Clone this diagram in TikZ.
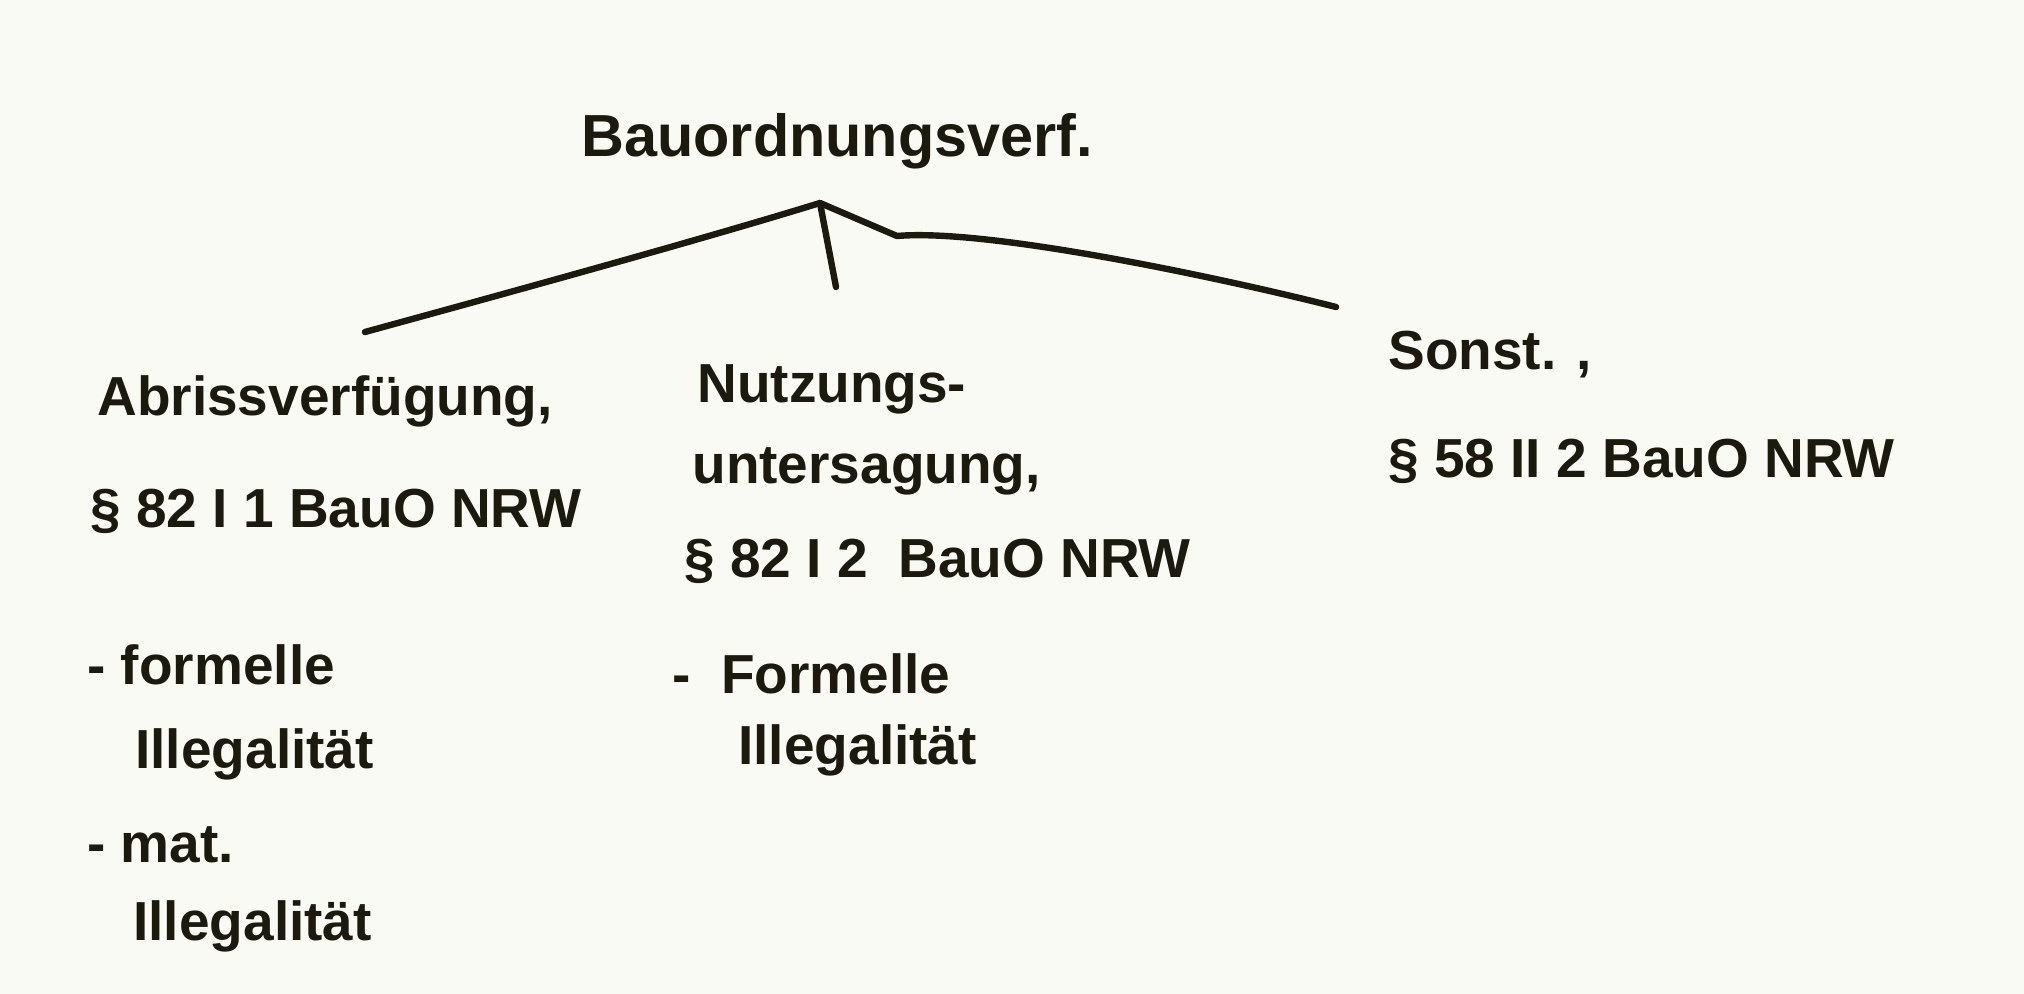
\documentclass[tikz,border=0pt]{standalone}
\usepackage{fontspec}
\setmainfont{Liberation Sans}
\definecolor{ink}{HTML}{1C1A0E}
\definecolor{paper}{HTML}{FAFAF5}
\begin{document}
\begin{tikzpicture}[x=0.5pt,y=-0.5pt,
  txt/.style={anchor=base west,inner sep=0pt,text=ink,font=\bfseries\fontsize{27.5}{32}\selectfont},
  stroke/.style={draw=ink,line width=3.2pt,line cap=round,line join=round}]
\fill[paper] (0,0) rectangle (2024,994);
\useasboundingbox (0,0) rectangle (2024,994);
% title
\node[txt,font=\bfseries\fontsize{29.7}{35}\selectfont] (title) at (581,157) {Bauordnungsverf.};
% branch texts
\node[txt] (a1) at (97,416) {Abrissverfügung,};
\node[txt] (a2) at (90,527) {§ 82 I 1 BauO NRW};
\node[txt] (a3) at (87,684) {- formelle};
\node[txt] (a4) at (135,768) {Illegalität};
\node[txt] (a5) at (87,862) {- mat.};
\node[txt] (a6) at (133,940) {Illegalität};
\node[txt] (n1) at (697,403) {Nutzungs-};
\node[txt] (n2) at (692,484) {untersagung,};
\node[txt] (n3) at (684,577) {§ 82 I 2 \ BauO NRW};
\node[txt] (n4) at (672,693) {-\ \ Formelle};
\node[txt] (n5) at (738,764) {Illegalität};
\node[txt] (s1) at (1388,370) {Sonst. ,};
\node[txt] (s2) at (1388,478) {§ 58 II 2 BauO NRW};
% connectors
\coordinate (apex) at (820,203);
\coordinate (lend) at (365,332);
\coordinate (mend) at (836,287);
\coordinate (rbend) at (897,236);
\coordinate (rend) at (1336,307);
\draw[stroke] (apex) .. controls (700,240) and (500,295) .. (lend);
\draw[stroke] (apex) -- (mend);
\draw[stroke] (apex) -- (rbend) .. controls (990,228) and (1230,280) .. (rend);
\end{tikzpicture}
\end{document}
